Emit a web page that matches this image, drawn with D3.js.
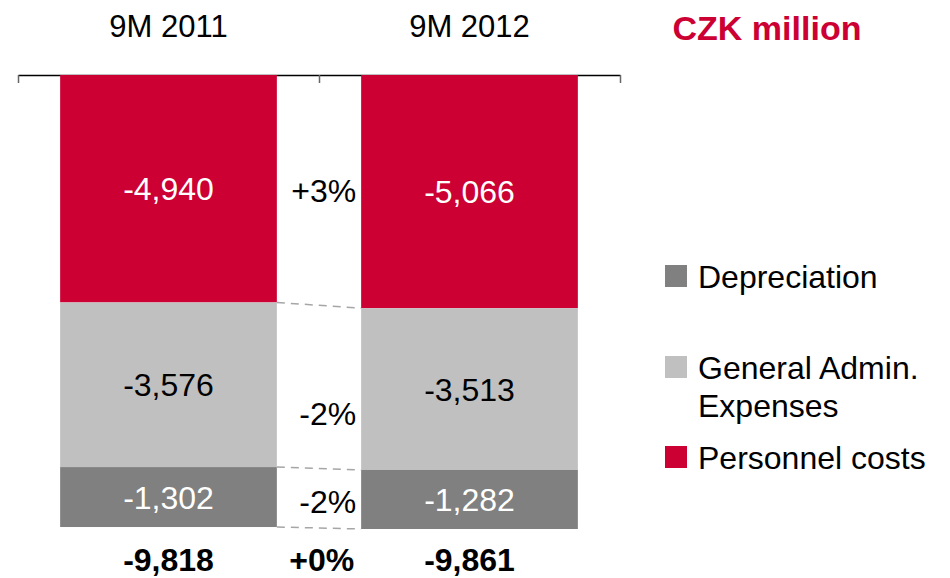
<!DOCTYPE html>
<html>
<head>
<meta charset="utf-8">
<script src="https://cdn.jsdelivr.net/npm/d3@7"></script>
<style>
  html, body { margin: 0; padding: 0; background: #fff; }
  svg { display: block; font-family: Arial, "Liberation Sans", sans-serif; }
</style>
</head>
<body>
<div id="chart"></div>
<script>
// CZK million, 9M 2011 vs 9M 2012 operating expenses

const periods = ['9M 2011', '9M 2012'];
const seriesNames = ['Personnel costs', 'General Admin. Expenses', 'Depreciation'];
const personnel = [-4940, -5066];
const generalAdmin = [-3576, -3513];
const depreciation = [-1302, -1282];
const changes = ['+3%', '-2%', '-2%'];
const totalChange = '+0%';
const unitLabel = 'CZK million';

const COLORS = {
  'Personnel costs': '#cc0033',
  'General Admin. Expenses': '#c0c0c0',
  'Depreciation': '#808080'
};
const LABEL_COLORS = {
  'Personnel costs': '#ffffff',
  'General Admin. Expenses': '#000000',
  'Depreciation': '#ffffff'
};

// plain hyphen instead of unicode minus
const fmt = v => d3.format(',')(v).replace('\u2212', '-');

const width = 950, height = 578;
const margin = { top: 75, left: 18, right: 330 };
const fontSize = 32;

const svg = d3.select('#chart').append('svg')
  .attr('width', width)
  .attr('height', height);

const values = [personnel, generalAdmin, depreciation];
const rows = periods.map((p, i) => {
  const r = { period: p };
  seriesNames.forEach((s, k) => { r[s] = -values[k][i]; });
  return r;
});
const stacked = d3.stack().keys(seriesNames)(rows);
const totals = rows.map(r => -d3.sum(seriesNames, s => r[s]));

const x = d3.scaleBand()
  .domain(periods)
  .range([margin.left, width - margin.right])
  .paddingInner(0.28)
  .paddingOuter(0.14);

const y = d3.scaleLinear()
  .domain([0, 10000])
  .range([margin.top, margin.top + 460.4]);

// boundary axis along the top
const xEdge = d3.scaleLinear().domain([0, periods.length]).range(x.range());
svg.append('g')
  .attr('transform', `translate(0,${margin.top})`)
  .call(d3.axisBottom(xEdge).tickValues(d3.range(periods.length + 1)).tickSize(8).tickSizeOuter(0).tickFormat(''))
  .call(g => g.select('.domain').attr('stroke', '#000').attr('stroke-width', 1.5))
  .call(g => g.selectAll('.tick line').attr('stroke', '#666').attr('stroke-width', 1.5));

// bars
const layers = svg.append('g').selectAll('g')
  .data(stacked)
  .join('g')
  .attr('fill', d => COLORS[d.key]);

layers.selectAll('rect')
  .data(d => d)
  .join('rect')
  .attr('x', d => x(d.data.period))
  .attr('width', x.bandwidth())
  .attr('y', d => y(d[0]))
  .attr('height', d => y(d[1]) - y(d[0]));

// dashed connectors between bars
const b0 = x(periods[0]) + x.bandwidth();
const b1 = x(periods[1]);
svg.append('g').selectAll('line')
  .data(stacked)
  .join('line')
  .attr('x1', b0)
  .attr('x2', b1)
  .attr('y1', d => y(d[0][1]))
  .attr('y2', d => y(d[1][1]))
  .attr('stroke', '#a6a6a6')
  .attr('stroke-width', 1.5)
  .attr('stroke-dasharray', '8,6');

// values inside segments
stacked.forEach(layer => {
  svg.append('g').selectAll('text')
    .data(layer)
    .join('text')
    .attr('x', d => x(d.data.period) + x.bandwidth() / 2)
    .attr('y', d => (y(d[0]) + y(d[1])) / 2)
    .attr('dy', '0.36em')
    .attr('text-anchor', 'middle')
    .attr('font-size', fontSize)
    .attr('fill', LABEL_COLORS[layer.key])
    .text(d => fmt(-(d[1] - d[0])));
});

// change labels in the gap
const nudge = [0, 27, 3];
svg.append('g').selectAll('text')
  .data(stacked)
  .join('text')
  .attr('x', b1 - 5)
  .attr('y', (d, i) => (y(d[0][0]) + y(d[0][1]) + y(d[1][0]) + y(d[1][1])) / 4 + nudge[i])
  .attr('dy', '0.36em')
  .attr('text-anchor', 'end')
  .attr('font-size', fontSize)
  .attr('fill', '#000')
  .text((d, i) => changes[i]);

// totals
const totalY = 559;
svg.append('g').selectAll('text')
  .data(periods)
  .join('text')
  .attr('x', d => x(d) + x.bandwidth() / 2)
  .attr('y', totalY)
  .attr('dy', '0.36em')
  .attr('text-anchor', 'middle')
  .attr('font-size', fontSize)
  .attr('font-weight', 'bold')
  .text((d, i) => fmt(totals[i]));

svg.append('text')
  .attr('x', b1 - 7)
  .attr('y', totalY)
  .attr('dy', '0.36em')
  .attr('text-anchor', 'end')
  .attr('font-size', fontSize)
  .attr('font-weight', 'bold')
  .text(totalChange);

// period headers
svg.append('g').selectAll('text')
  .data(periods)
  .join('text')
  .attr('x', d => x(d) + x.bandwidth() / 2)
  .attr('y', 26)
  .attr('dy', '0.36em')
  .attr('text-anchor', 'middle')
  .attr('font-size', 31)
  .text(d => d);

svg.append('text')
  .attr('x', 767)
  .attr('y', 28)
  .attr('dy', '0.36em')
  .attr('text-anchor', 'middle')
  .attr('font-size', 34)
  .attr('font-weight', 'bold')
  .attr('fill', '#cc0033')
  .text(unitLabel);

// legend
const legendItems = [
  { key: 'Depreciation', lines: ['Depreciation'], y: 276 },
  { key: 'General Admin. Expenses', lines: ['General Admin.', 'Expenses'], y: 367 },
  { key: 'Personnel costs', lines: ['Personnel costs'], y: 457 }
];
const legend = svg.append('g').selectAll('g')
  .data(legendItems)
  .join('g')
  .attr('transform', d => `translate(665,${d.y})`);

legend.append('rect')
  .attr('x', 0)
  .attr('y', -11)
  .attr('width', 22)
  .attr('height', 22)
  .attr('fill', d => COLORS[d.key]);

legend.append('text')
  .attr('x', 33)
  .attr('font-size', fontSize)
  .selectAll('tspan')
  .data(d => d.lines)
  .join('tspan')
  .attr('x', 33)
  .attr('y', (d, i) => i * 38)
  .attr('dy', '0.36em')
  .text(d => d);
</script>
</body>
</html>
